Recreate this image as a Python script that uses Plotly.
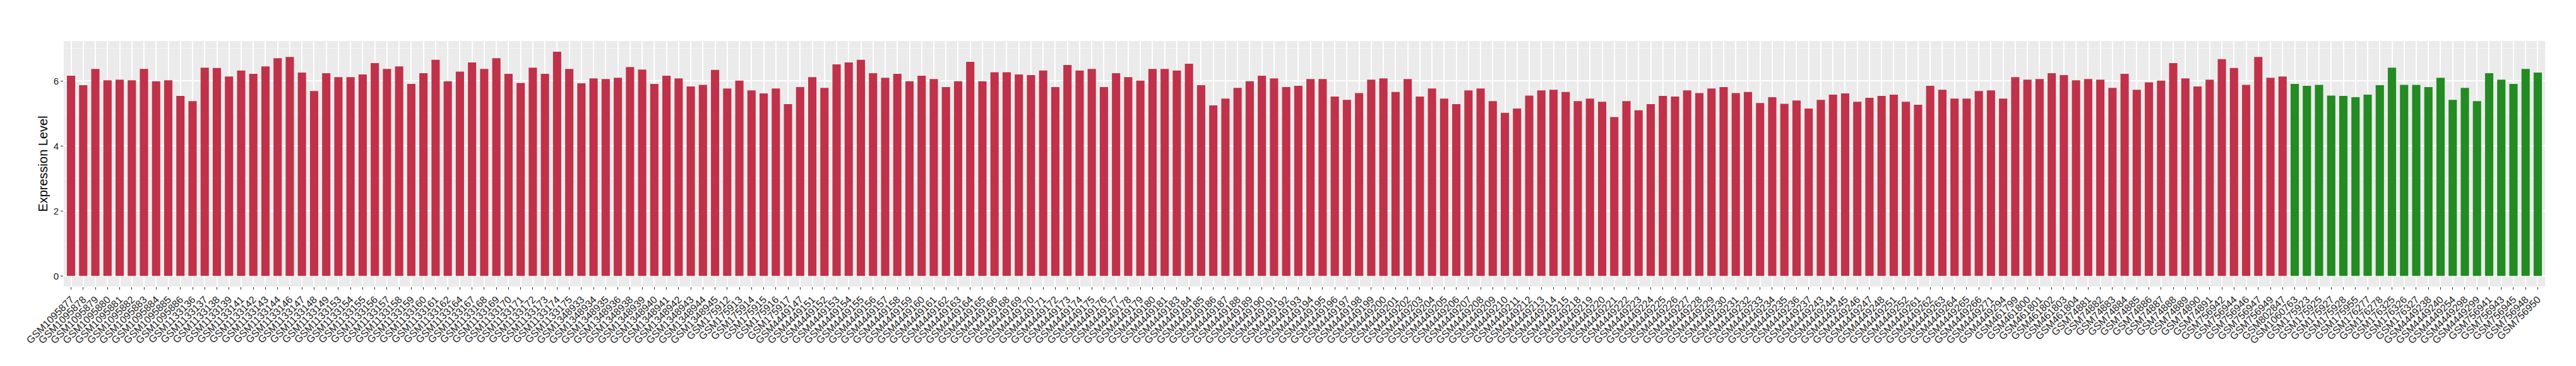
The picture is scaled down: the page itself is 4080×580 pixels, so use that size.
import plotly.graph_objects as go

# ---- red group (tumour) sample labels ----
red_a_labels = ["GSM1095877", "GSM1095878", "GSM1095879", "GSM1095880", "GSM1095881",
                "GSM1095882", "GSM1095883", "GSM1095884", "GSM1095885", "GSM1095886"]
red_a_values = [6.16, 5.87, 6.37, 6.02, 6.04, 6.02, 6.37, 5.99, 6.02, 5.54]

red_b_labels = ["GSM1133136", "GSM1133137", "GSM1133138", "GSM1133139", "GSM1133141",
                "GSM1133142", "GSM1133143", "GSM1133144", "GSM1133146", "GSM1133147",
                "GSM1133148", "GSM1133149", "GSM1133153", "GSM1133154", "GSM1133155",
                "GSM1133156", "GSM1133157", "GSM1133158", "GSM1133159", "GSM1133160",
                "GSM1133161", "GSM1133162", "GSM1133164", "GSM1133167", "GSM1133168",
                "GSM1133169", "GSM1133170", "GSM1133171", "GSM1133172", "GSM1133173",
                "GSM1133174", "GSM1133175"]
red_b_values = [5.38, 6.41, 6.40, 6.14, 6.32, 6.22, 6.45, 6.70, 6.74, 6.26,
                5.69, 6.24, 6.12, 6.12, 6.20, 6.55, 6.37, 6.45, 5.91, 6.24,
                6.65, 5.99, 6.29, 6.57, 6.37, 6.70, 6.22, 5.94, 6.41, 6.22,
                6.90, 6.37]

red_c_labels = ["GSM1348933", "GSM1348934", "GSM1348935", "GSM1348936", "GSM1348938",
                "GSM1348939", "GSM1348940", "GSM1348941", "GSM1348942", "GSM1348943",
                "GSM1348944", "GSM1348945",
                "GSM175912", "GSM175913", "GSM175914", "GSM175915", "GSM175916", "GSM175917"]
red_c_values = [5.93, 6.08, 6.06, 6.10, 6.43, 6.35, 5.91, 6.16, 6.08, 5.83,
                5.88, 6.34,
                5.77, 6.01, 5.71, 5.62, 5.77, 5.29]

red_d_labels = ["GSM4449147", "GSM4449151", "GSM4449152", "GSM4449153", "GSM4449154",
                "GSM4449155", "GSM4449156", "GSM4449157", "GSM4449158", "GSM4449159",
                "GSM4449160", "GSM4449161", "GSM4449162", "GSM4449163", "GSM4449164",
                "GSM4449165", "GSM4449166", "GSM4449168", "GSM4449169", "GSM4449170",
                "GSM4449171", "GSM4449172", "GSM4449173", "GSM4449174", "GSM4449175",
                "GSM4449176", "GSM4449177", "GSM4449178", "GSM4449179", "GSM4449180",
                "GSM4449181", "GSM4449183", "GSM4449184", "GSM4449185", "GSM4449186",
                "GSM4449187", "GSM4449188", "GSM4449189", "GSM4449190", "GSM4449191",
                "GSM4449192", "GSM4449193", "GSM4449194", "GSM4449195"]
red_d_values = [5.81, 6.12, 5.79, 6.51, 6.57, 6.65, 6.24, 6.10, 6.22, 5.99,
                6.16, 6.06, 5.81, 5.99, 6.59, 5.99, 6.27, 6.27, 6.20, 6.18,
                6.32, 5.81, 6.49, 6.32, 6.37, 5.81, 6.24, 6.12, 6.01, 6.37,
                6.37, 6.32, 6.53, 5.87, 5.25, 5.46, 5.79, 5.99, 6.16, 6.08,
                5.81, 5.85, 6.06, 6.06]

red_e_labels = ["GSM4449196", "GSM4449197", "GSM4449198", "GSM4449199", "GSM4449200",
                "GSM4449201", "GSM4449202", "GSM4449203", "GSM4449204", "GSM4449205",
                "GSM4449206", "GSM4449207", "GSM4449208", "GSM4449209", "GSM4449210",
                "GSM4449211", "GSM4449212", "GSM4449213", "GSM4449214", "GSM4449215",
                "GSM4449218", "GSM4449219", "GSM4449220", "GSM4449221", "GSM4449222",
                "GSM4449223", "GSM4449224", "GSM4449225", "GSM4449226", "GSM4449227",
                "GSM4449228", "GSM4449229", "GSM4449230", "GSM4449231", "GSM4449232",
                "GSM4449233", "GSM4449234"]
red_e_values = [5.52, 5.42, 5.63, 6.04, 6.08, 5.66, 6.06, 5.52, 5.77, 5.46,
                5.29, 5.71, 5.77, 5.38, 5.02, 5.15, 5.55, 5.71, 5.73, 5.66,
                5.38, 5.46, 5.36, 4.89, 5.38, 5.10, 5.29, 5.54, 5.52, 5.71,
                5.63, 5.77, 5.81, 5.63, 5.66, 5.32, 5.50]

red_f_labels = ["GSM4449235", "GSM4449236", "GSM4449237", "GSM4449243", "GSM4449244",
                "GSM4449245", "GSM4449246", "GSM4449247", "GSM4449248", "GSM4449251",
                "GSM4449252", "GSM4449261", "GSM4449262", "GSM4449263", "GSM4449264",
                "GSM4449265", "GSM4449266", "GSM4449271", "GSM4449294"]
red_f_values = [5.30, 5.40, 5.15, 5.42, 5.58, 5.62, 5.36, 5.48, 5.54, 5.58,
                5.36, 5.27, 5.85, 5.73, 5.46, 5.46, 5.69, 5.71, 5.46]

red_g_labels = ["GSM461799", "GSM461800", "GSM461801", "GSM461802", "GSM461803", "GSM461804",
                "GSM74881", "GSM74882", "GSM74883", "GSM74884", "GSM74885", "GSM74886",
                "GSM74887", "GSM74888", "GSM74889", "GSM74890", "GSM74891",
                "GSM756942", "GSM756944", "GSM756946", "GSM756947", "GSM756949",
                "GSM802847"]
red_g_values = [6.12, 6.04, 6.06, 6.24, 6.18, 6.02,
                6.06, 6.04, 5.79, 6.22, 5.73, 5.96,
                6.01, 6.55, 6.08, 5.83, 6.04,
                6.67, 6.40, 5.88, 6.74, 6.10,
                6.14]

# ---- green group (normal) ----
green_labels = ["GSM1060763", "GSM175923", "GSM175925", "GSM175927", "GSM175928",
                "GSM175955", "GSM176277", "GSM176278", "GSM176325", "GSM176326",
                "GSM176327", "GSM4449238", "GSM4449240", "GSM4449254", "GSM4449298",
                "GSM4449299", "GSM756941", "GSM756943", "GSM756945", "GSM756948",
                "GSM756950"]
green_values = [5.91, 5.85, 5.88, 5.55, 5.54, 5.50, 5.58, 5.87, 6.41, 5.88,
                5.88, 5.81, 6.10, 5.42, 5.79, 5.38, 6.24, 6.04, 5.91, 6.37,
                6.26]

y_ticks = [0, 2, 4, 6]

red_labels = (red_a_labels + red_b_labels + red_c_labels + red_d_labels
              + red_e_labels + red_f_labels + red_g_labels)
red_values = (red_a_values + red_b_values + red_c_values + red_d_values
              + red_e_values + red_f_values + red_g_values)
all_labels = red_labels + green_labels

RED = "#C13149"
GREEN = "#228B22"

fig = go.Figure()
fig.add_trace(go.Bar(x=red_labels, y=red_values, marker=dict(color=RED, line=dict(width=0)),
                     width=0.68, showlegend=False))
fig.add_trace(go.Bar(x=green_labels, y=green_values, marker=dict(color=GREEN, line=dict(width=0)),
                     width=0.68, showlegend=False))

n = len(all_labels)
fig.update_layout(
    width=4080, height=580,
    margin=dict(l=93, r=57, t=57, b=134),
    paper_bgcolor="white",
    plot_bgcolor="#EBEBEB",
    barmode="overlay",
    font=dict(family="Liberation Sans, Arial, sans-serif", color="#1A1A1A"),
    showlegend=False,
)
fig.update_xaxes(
    type="category", categoryorder="array", categoryarray=all_labels,
    range=[-0.6, n - 1 + 0.6],
    tickmode="linear", tick0=0, dtick=1,
    tickangle=-45, tickfont=dict(size=16, color="#1A1A1A"),
    showgrid=True, gridcolor="white", gridwidth=1.5,
    ticks="outside", ticklen=4, tickwidth=1, tickcolor="#333333",
    showline=False, zeroline=False, automargin=False,
)
fig.update_yaxes(
    range=[-0.324, 7.23],
    tickvals=y_ticks, ticktext=[str(v) for v in y_ticks],
    tickfont=dict(size=15, color="#1A1A1A"),
    showgrid=True, gridcolor="white", gridwidth=2,
    minor=dict(tickvals=[1, 3, 5, 7], showgrid=True, gridcolor="#F5F5F5", gridwidth=1, ticks=""),
    ticks="outside", ticklen=4, tickwidth=1, tickcolor="#333333",
    zeroline=False, showline=False, automargin=False,
    title=dict(text="Expression Level", font=dict(size=20, color="black"), standoff=3),
)

fig.write_html("out.html")
